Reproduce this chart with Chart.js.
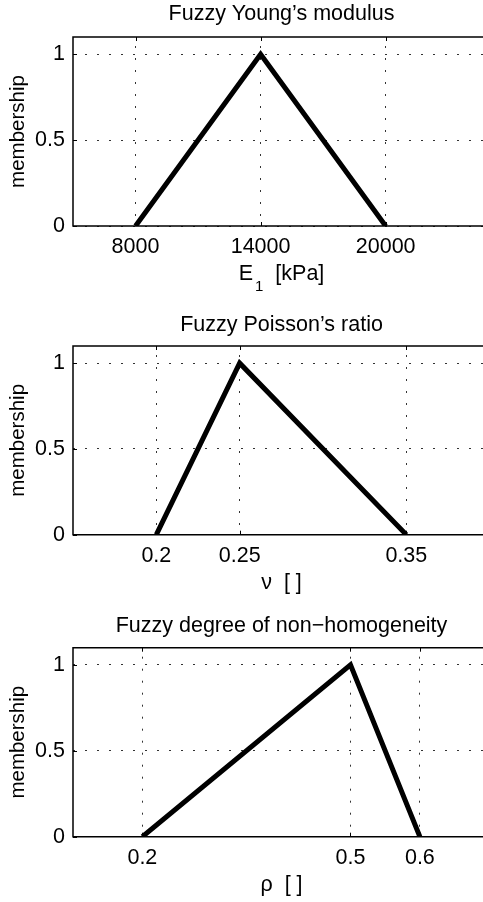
<!DOCTYPE html>
<html lang="en">
<head>
<meta charset="UTF-8"/>
<title>Fuzzy parameters</title>
<script src="https://cdn.jsdelivr.net/npm/chart.js"></script>
<style>
  html, body { margin:0; padding:0; background:#fff; overflow:hidden; }
  #wrap { position:relative; width:483px; height:902px; overflow:hidden; }
  #wrap canvas { position:absolute; left:0; }
</style>
</head>
<body>
<div id="wrap">
  <canvas id="young" width="483" height="300" style="top:0"></canvas>
  <canvas id="poisson" width="483" height="300" style="top:300px"></canvas>
  <canvas id="rho" width="483" height="302" style="top:600px"></canvas>
</div>

<script>
/* ===== data ===== */
// membership function points (x, mu)
const youngX = [8000, 14000, 20000];
const youngMu = [0, 1, 0];
const youngTicks = [8000, 14000, 20000];
const youngRange = [5000, 24670];     // visible part, box is cut at the page edge

const poissonX = [0.2, 0.25, 0.35];
const poissonMu = [0, 1, 0];
const poissonTicks = [0.2, 0.25, 0.35];
const poissonRange = [0.15, 0.396];

const rhoX = [0.2, 0.5, 0.6];
const rhoMu = [0, 1, 0];
const rhoTicks = [0.2, 0.5, 0.6];
const rhoRange = [0.1, 0.691];

const muTicks = [0, 0.5, 1];
const muRange = [0, 1.1];

const titles = ["Fuzzy Young\u2019s modulus", "Fuzzy Poisson\u2019s ratio", "Fuzzy degree of non\u2212homogeneity"];
// x labels: [main, subscript, rest]
const youngLabel = ["E", "1", "  [kPa]"];
const poissonLabel = ["\u03bd", "", "  [ ]"];
const rhoLabel = ["\u03c1", "", "  [ ]"];
const yLabel = "membership";

/* ===== common stuff ===== */
const FONT = "'Liberation Sans', Arial, Helvetica, sans-serif";
Chart.defaults.font.family = FONT;
Chart.defaults.font.size = 21.5;
Chart.defaults.color = '#000';
const OVERHANG = 7;   // plot box goes a few px past the right edge of the page

// matlab style box + small inward tick marks
const framePlugin = {
  id: 'frame',
  afterDraw(chart) {
    const a = chart.chartArea, ctx = chart.ctx;
    const xs = chart.scales.x, ys = chart.scales.y;
    ctx.save();
    ctx.strokeStyle = '#000';
    ctx.lineWidth = 1;
    ctx.beginPath();
    xs.ticks.forEach(t => {
      const p = Math.round(xs.getPixelForValue(t.value)) + 0.5;
      ctx.moveTo(p, a.top); ctx.lineTo(p, a.top + 4);
      ctx.moveTo(p, a.bottom); ctx.lineTo(p, a.bottom - 4);
    });
    ys.ticks.forEach(t => {
      const p = Math.round(ys.getPixelForValue(t.value)) + 0.5;
      ctx.moveTo(a.left, p); ctx.lineTo(a.left + 4, p);
    });
    ctx.stroke();
    ctx.lineWidth = 1.5;
    ctx.beginPath();
    ctx.moveTo(a.right, a.top);
    ctx.lineTo(a.left, a.top);
    ctx.lineTo(a.left, a.bottom);
    ctx.lineTo(a.right, a.bottom);
    ctx.stroke();
    ctx.restore();
  }
};

// axes title, centred over the whole plot box
const boxTitlePlugin = {
  id: 'boxTitle',
  afterDraw(chart, args, opts) {
    const ctx = chart.ctx, a = chart.chartArea;
    ctx.save();
    ctx.fillStyle = '#000';
    ctx.font = '21.5px ' + FONT;
    ctx.textAlign = 'center';
    ctx.textBaseline = 'alphabetic';
    ctx.fillText(opts.text, (a.left + a.right + OVERHANG) / 2, a.top - opts.gap);
    ctx.restore();
  }
};

// x label with optional subscript (E_1 [kPa])
const xLabelPlugin = {
  id: 'xLabel',
  afterDraw(chart, args, opts) {
    const ctx = chart.ctx, a = chart.chartArea;
    const [main, sub, rest] = opts.parts;
    const big = '21.5px ' + FONT, small = '15px ' + FONT;
    const gap = sub ? 2 : 0;
    ctx.save();
    ctx.fillStyle = '#000';
    ctx.textBaseline = 'alphabetic';
    ctx.textAlign = 'left';
    ctx.font = big;
    const w1 = ctx.measureText(main).width, w3 = ctx.measureText(rest).width;
    ctx.font = small;
    const w2 = ctx.measureText(sub).width;
    const base = chart.scales.x.bottom - opts.baseOffset;
    let x = (a.left + a.right + OVERHANG) / 2 - (w1 + w2 + gap + w3) / 2;
    ctx.font = big;
    ctx.fillText(main, x, base);
    x += w1 + gap;
    if (sub) {
      ctx.font = small;
      ctx.fillText(sub, x, base + 11);
      x += w2;
    }
    ctx.font = big;
    ctx.fillText(rest, x, base);
    ctx.restore();
  }
};

function makeChart(id, xs, ys, xTicks, xRange, title, xParts, lay) {
  const pts = xs.map((x, i) => ({x: x, y: ys[i]}));
  return new Chart(document.getElementById(id).getContext('2d'), {
    type: 'line',
    data: {
      datasets: [{
        data: pts,
        borderColor: '#000',
        borderWidth: 5,
        pointRadius: 0,
        tension: 0,
        fill: false
      }]
    },
    options: {
      responsive: false,
      animation: false,
      layout: { padding: { left: 0, right: 0, top: lay.top, bottom: 0 } },
      plugins: {
        legend: { display: false },
        tooltip: { enabled: false },
        title: { display: false },
        boxTitle: { text: title, gap: lay.titleGap },
        xLabel: { parts: xParts, baseOffset: lay.labelBase }
      },
      scales: {
        x: {
          type: 'linear',
          min: xRange[0],
          max: xRange[1],
          afterBuildTicks: s => { s.ticks = xTicks.map(v => ({value: v})); },
          afterFit: s => { s.height = lay.xHeight; },
          ticks: { padding: 8, maxRotation: 0, callback: v => String(v) },
          grid: { color: '#333', lineWidth: 1, drawTicks: false },
          border: { display: false, dash: [2, 10], dashOffset: 3 },
          title: { display: false }
        },
        y: {
          min: muRange[0],
          max: muRange[1],
          afterBuildTicks: s => { s.ticks = muTicks.map(v => ({value: v})); },
          afterFit: s => { s.width = 73; },
          ticks: { padding: 8, callback: v => String(v) },
          grid: { color: '#333', lineWidth: 1, drawTicks: false },
          border: { display: false, dash: [2, 10] },
          title: { display: true, text: yLabel, font: { size: 20.5 }, padding: { top: 6.2, bottom: 0 } }
        }
      }
    },
    plugins: [framePlugin, boxTitlePlugin, xLabelPlugin]
  });
}

makeChart('young', youngX, youngMu, youngTicks, youngRange, titles[0], youngLabel,
  { top: 37, titleGap: 17, xHeight: 74, labelBase: 20 });
makeChart('poisson', poissonX, poissonMu, poissonTicks, poissonRange, titles[1], poissonLabel,
  { top: 46, titleGap: 15.5, xHeight: 65.3, labelBase: 11.3 });
makeChart('rho', rhoX, rhoMu, rhoTicks, rhoRange, titles[2], rhoLabel,
  { top: 47.7, titleGap: 16, xHeight: 65.3, labelBase: 11.5 });
</script>
</body>
</html>
